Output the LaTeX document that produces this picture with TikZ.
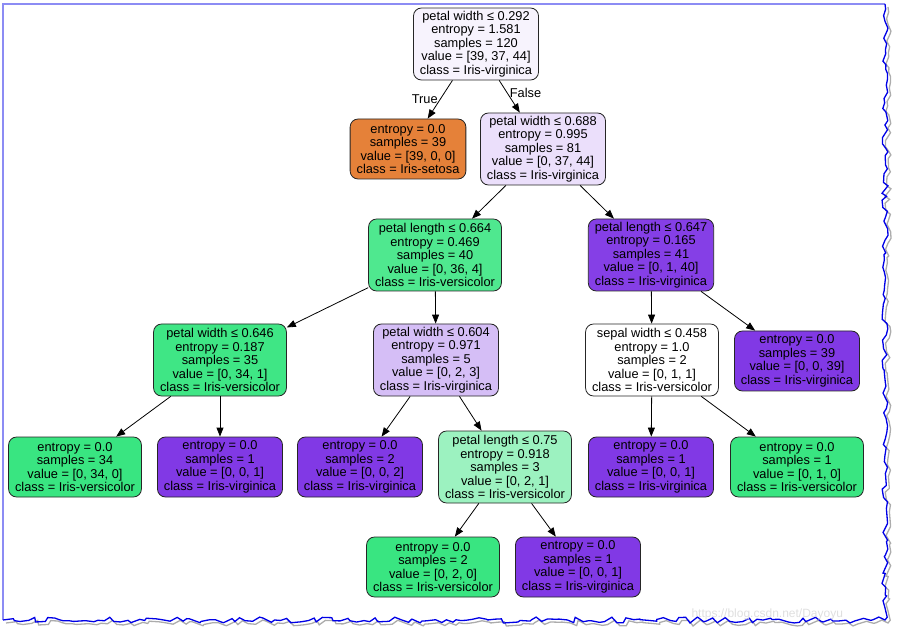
\documentclass[tikz,border=0pt]{standalone}
\usepackage{fontspec}
\setmainfont{Liberation Sans}
\usetikzlibrary{arrows.meta,decorations.pathmorphing}
\definecolor{setosa}{HTML}{E58139}
\definecolor{versic}{HTML}{39E581}
\definecolor{virgin}{HTML}{8139E5}
\definecolor{frameblue}{HTML}{0000E6}

\begin{document}
\begin{tikzpicture}[x=1pt, y=-1pt,
    split/.style = {draw=black!85, line width=0.8pt, rounded corners=8pt,
                    align=center, inner xsep=6.5pt, inner ysep=2pt,
                    minimum height=72pt,
                    font=\fontsize{12.8}{13.5}\selectfont},
    leaf/.style  = {split, minimum height=60pt},
    arr/.style   = {-{Triangle[length=9pt,width=7pt]}, line width=0.8pt},
    lbl/.style   = {font=\fontsize{12.8}{13.5}\selectfont, inner sep=2pt},
    rough/.style = {decorate, decoration={random steps, segment length=5.5pt,
                    amplitude=3pt}, line width=1.3pt},
]
\useasboundingbox (0,0) rectangle (900,636);
% torn frame
\draw[frameblue!45, line width=1.5pt] (3,620) -- (3,4) -- (885,4);
\pgfmathsetseed{7}
\draw[rough, gray!65] (888,7) -- (888,623) -- (6,623);
\pgfmathsetseed{7}
\draw[rough, frameblue] (885,4) -- (885,620) -- (3,620);
\node[anchor=west, text=gray!25, font=\fontsize{12}{12}\selectfont] (wm) at (688,614)
     {https://blog.csdn.net/Dayoyu};

% level 0
\node[split, fill=virgin!6!white]  (root)  at (476,44)  {petal width ≤ 0.292\\entropy = 1.581\\samples = 120\\value = [39, 37, 44]\\class = Iris-virginica};
% level 1
\node[leaf,  fill=setosa]          (set39) at (408,149) {entropy = 0.0\\samples = 39\\value = [39, 0, 0]\\class = Iris-setosa};
\node[split, fill=virgin!16!white] (pw688) at (543,149) {petal width ≤ 0.688\\entropy = 0.995\\samples = 81\\value = [0, 37, 44]\\class = Iris-virginica};
% level 2
\node[split, fill=versic!89!white] (pl664) at (435,255) {petal length ≤ 0.664\\entropy = 0.469\\samples = 40\\value = [0, 36, 4]\\class = Iris-versicolor};
\node[split, fill=virgin!97!white] (pl647) at (651,255) {petal length ≤ 0.647\\entropy = 0.165\\samples = 41\\value = [0, 1, 40]\\class = Iris-virginica};
% level 3
\node[split, fill=versic!97!white] (pw646) at (220,360) {petal width ≤ 0.646\\entropy = 0.187\\samples = 35\\value = [0, 34, 1]\\class = Iris-versicolor};
\node[split, fill=virgin!33!white] (pw604) at (436,360) {petal width ≤ 0.604\\entropy = 0.971\\samples = 5\\value = [0, 2, 3]\\class = Iris-virginica};
\node[split, fill=white]           (sw458) at (652,360) {sepal width ≤ 0.458\\entropy = 1.0\\samples = 2\\value = [0, 1, 1]\\class = Iris-versicolor};
\node[leaf,  fill=virgin]          (vir39) at (797,361) {entropy = 0.0\\samples = 39\\value = [0, 0, 39]\\class = Iris-virginica};
% level 4
\node[leaf,  fill=versic]          (ver34) at (75,467)  {entropy = 0.0\\samples = 34\\value = [0, 34, 0]\\class = Iris-versicolor};
\node[leaf,  fill=virgin]          (vir1a) at (220,467) {entropy = 0.0\\samples = 1\\value = [0, 0, 1]\\class = Iris-virginica};
\node[leaf,  fill=virgin]          (vir2)  at (360,467) {entropy = 0.0\\samples = 2\\value = [0, 0, 2]\\class = Iris-virginica};
\node[split, fill=versic!50!white] (pl075) at (505,467) {petal length ≤ 0.75\\entropy = 0.918\\samples = 3\\value = [0, 2, 1]\\class = Iris-versicolor};
\node[leaf,  fill=virgin]          (vir1b) at (651,467) {entropy = 0.0\\samples = 1\\value = [0, 0, 1]\\class = Iris-virginica};
\node[leaf,  fill=versic]          (ver1)  at (797,467) {entropy = 0.0\\samples = 1\\value = [0, 1, 0]\\class = Iris-versicolor};
% level 5
\node[leaf,  fill=versic]          (ver2)  at (433,567) {entropy = 0.0\\samples = 2\\value = [0, 2, 0]\\class = Iris-versicolor};
\node[leaf,  fill=virgin]          (vir1c) at (578,567) {entropy = 0.0\\samples = 1\\value = [0, 0, 1]\\class = Iris-virginica};

% edges
\draw[arr] (root)  -- node[lbl, pos=0.5, left]  {True}  (set39);
\draw[arr] (root)  -- node[lbl, pos=0.4, right] {False} (pw688);
\draw[arr] (pw688) -- (pl664);
\draw[arr] (pw688) -- (pl647);
\draw[arr] (pl664) -- (pw646);
\draw[arr] (pl664) -- (pw604);
\draw[arr] (pl647) -- (sw458);
\draw[arr] (pl647) -- (vir39);
\draw[arr] (pw646) -- (ver34);
\draw[arr] (pw646) -- (vir1a);
\draw[arr] (pw604) -- (vir2);
\draw[arr] (pw604) -- (pl075);
\draw[arr] (sw458) -- (vir1b);
\draw[arr] (sw458) -- (ver1);
\draw[arr] (pl075) -- (ver2);
\draw[arr] (pl075) -- (vir1c);
\end{tikzpicture}
\end{document}
